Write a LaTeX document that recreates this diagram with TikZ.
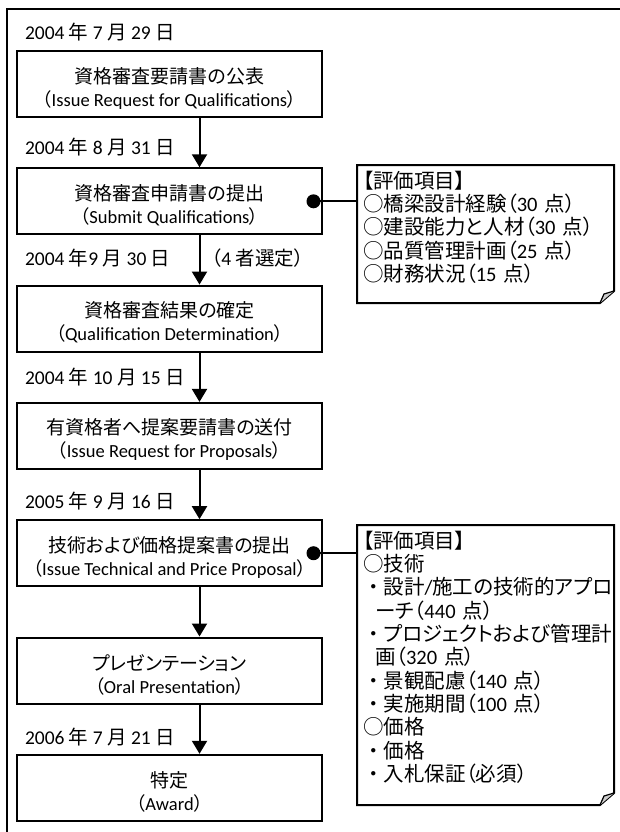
\documentclass[tikz,border=0pt]{standalone}
\usepackage{fontspec}
\setmainfont{Carlito}
\newfontfamily\jp{Noto Sans CJK JP}[RawFeature=+palt]
\newfontfamily\jpw{Noto Sans CJK JP}
\usetikzlibrary{arrows.meta,positioning}

% step title and the English line under it
\newcommand\ttl[1]{{\fontsize{19}{23}\selectfont\jp\rule{0pt}{24pt}#1}}
\newcommand\en[1]{{\jp （}#1{\jp ）}}
% full-width marks in the notes
\newcommand\bul{{\jpw ・}}
\newcommand\crc{{\jpw ○}}

\begin{document}
\begin{tikzpicture}[->,>={Triangle[width=15pt,length=13pt]},line width=2pt,x=1pt,y=1pt,
		node distance=117.3pt,font=\fontsize{19.5}{23.3}\selectfont,
		stepbox/.style={draw,minimum width=305pt,minimum height=66pt,align=center,inner sep=0pt,
			font=\fontsize{18.5}{23}\selectfont},
		date/.style={anchor=west,inner sep=0pt},
		memo/.style={anchor=north west,text width=245pt,inner xsep=5pt,inner ysep=5pt,align=left,
			font=\fontsize{20.5}{23.3}\selectfont},
		dot/.style={circle,fill,inner sep=0pt,minimum size=14pt}]
	\useasboundingbox (0,0) rectangle (620,-832);
	\draw[-,line width=1.5pt] (7,-832) |- (620,-9);

	% steps
	\node[stepbox] (s1) at (169.5,-84) {\ttl{資格審査要請書の公表}\\\en{Issue Request for Qualifications}};
	\node[stepbox] (s2) [below of=s1] {\ttl{資格審査申請書の提出}\\\en{Submit Qualifications}};
	\node[stepbox] (s3) [below of=s2] {\ttl{資格審査結果の確定}\\\en{Qualification Determination}};
	\node[stepbox] (s4) [below of=s3] {\ttl{有資格者へ提案要請書の送付}\\\en{Issue Request for Proposals}};
	\node[stepbox] (s5) [below of=s4] {\ttl{技術および価格提案書の提出}\\\en{Issue Technical and Price Proposal}};
	\node[stepbox] (s6) [below of=s5] {\ttl{プレゼンテーション}\\\en{Oral Presentation}};
	\node[stepbox] (s7) [below of=s6] {\ttl{特定}\\\en{Award}};

	% dates
	\node[date] (d1) at ([xshift=8pt,yshift=18pt]s1.north west) {2004 {\jp 年} 7 {\jp 月} 29 {\jp 日}};
	\node[date] (d2) at ([xshift=8pt,yshift=20pt]s2.north west) {2004 {\jp 年} 8 {\jp 月} 31 {\jp 日}};
	\node[date] (d3) at ([xshift=8pt,yshift=27pt]s3.north west) {2004 {\jp 年}9 {\jp 月} 30 {\jp 日}};
	\node[date] (sel) at ([xshift=41pt,yshift=27pt]s3.north) {{\jp （}4 {\jp 者選定）}};
	\node[date] (d4) at ([xshift=8pt,yshift=25pt]s4.north west) {2004 {\jp 年} 10 {\jp 月} 15 {\jp 日}};
	\node[date] (d5) at ([xshift=8pt,yshift=18pt]s5.north west) {2005 {\jp 年} 9 {\jp 月} 16 {\jp 日}};
	\node[date] (d6) at ([xshift=8pt,yshift=17pt]s7.north west) {2006 {\jp 年} 7 {\jp 月} 21 {\jp 日}};

	% evaluation notes
	\node[memo] (n1) at (357,-165) {{\jp 【評価項目】}\\
		\crc{\jp 橋梁設計経験（}30 {\jp 点）}\\
		\crc{\jp 建設能力と人材（}30 {\jp 点）}\\
		\crc{\jp 品質管理計画（}25 {\jp 点）}\\
		\crc{\jp 財務状況（}15 {\jp 点）}};
	\node[memo] (n2) at (357,-525) {{\jp 【評価項目】}\\
		\crc{\jp 技術}\\
		\bul{\jp 設計}/{\jp 施工の技術的アプロ}\\
		\hspace*{0.6em}{\jp ーチ（}440 {\jp 点）}\\
		\bul{\jp プロジェクトおよび管理計}\\
		\hspace*{0.6em}{\jp 画（}320 {\jp 点）}\\
		\bul{\jp 景観配慮（}140 {\jp 点）}\\
		\bul{\jp 実施期間（}100 {\jp 点）}\\
		\crc{\jp 価格}\\
		\bul{\jp 価格}\\
		\bul{\jp 入札保証（必須）}};
	\foreach \n/\h in {n1/126,n2/268}{
		\draw[-] (\n.north west) -- (\n.north east) -- ++(0,-\h) coordinate (\n-a)
			-- ++(-14,-12) coordinate (\n-b) -- (\n.west |- \n-b) -- cycle;
		\filldraw[-,fill=gray!40,line width=1.2pt] (\n-b) -- ++(4,9) -- (\n-a);
	}

	% flow
	\path
		([xshift=30pt]s1.south) edge ([xshift=30pt]s2.north)
		([xshift=30pt]s2.south) edge ([xshift=30pt]s3.north)
		([xshift=30pt]s3.south) edge ([xshift=30pt]s4.north)
		([xshift=30pt]s4.south) edge ([xshift=30pt]s5.north)
		([xshift=30pt]s5.south) edge ([xshift=30pt]s6.north)
		([xshift=30pt]s6.south) edge ([xshift=30pt]s7.north);

	% links to the notes
	\node[dot] (p2) at ([xshift=-9.5pt]s2.east) {};
	\node[dot] (p5) at ([xshift=-9.5pt]s5.east) {};
	\draw[-] (p2.center) -- (p2 -| n1.west);
	\draw[-] (p5.center) -- (p5 -| n2.west);
\end{tikzpicture}
\end{document}
